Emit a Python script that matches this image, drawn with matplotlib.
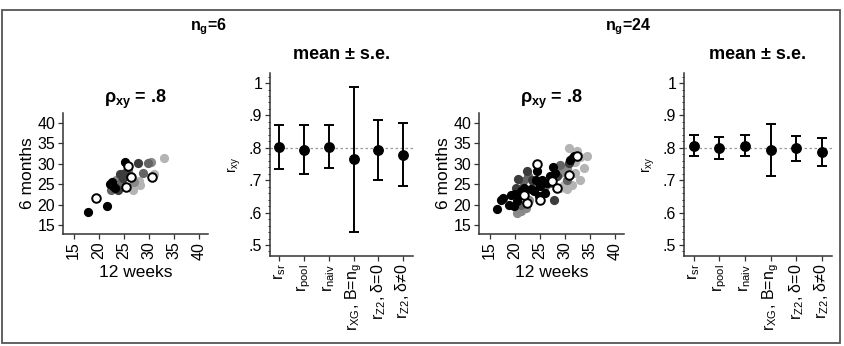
import matplotlib
matplotlib.use("Agg")
import matplotlib.pyplot as plt
from matplotlib.patches import Rectangle
from matplotlib.ticker import MultipleLocator

plt.rcParams["font.family"] = ["Liberation Sans", "DejaVu Sans"]
plt.rcParams["mathtext.fontset"] = "custom"
plt.rcParams["mathtext.rm"] = "Liberation Sans"
plt.rcParams["mathtext.it"] = "Liberation Sans:italic"
plt.rcParams["mathtext.bf"] = "Liberation Sans:bold"

# --- datos ---
# colores de los grupos (gris claro -> negro, y circulo abierto)
grp_colors = ["#b4b4b4", "#8a8a8a", "#646464", "#3c3c3c", "#000000", "white"]

# n_g = 6: 12 semanas (x) y 6 meses (y) por grupo
ng6_x = [
    [33.1, 28.0, 28.2, 26.9, 31.0],
    [30.5, 25.8, 23.5, 27.0],
    [22.5, 24.5, 28.9, 26.0, 29.8],
    [23.9, 24.2, 24.8, 27.9, 25.3],
    [17.9, 21.7, 22.2, 22.9, 22.6, 25.2, 23.2],
    [19.4, 25.9, 26.4, 25.5, 30.7],
]
ng6_y = [
    [31.5, 25.8, 24.8, 23.5, 27.5],
    [30.5, 28.5, 26.0, 25.5],
    [23.5, 25.6, 27.8, 27.2, 30.2],
    [23.5, 27.4, 26.5, 30.1, 27.8],
    [18.1, 19.6, 25.0, 24.5, 25.4, 30.5, 24.0],
    [21.7, 29.4, 26.8, 24.4, 26.8],
]

# n_g = 24
ng24_x = [
    [30.8, 32.0, 32.4, 33.1, 33.8, 34.4, 33.1, 31.5, 29.1, 29.8, 30.5, 32.1],
    [20.5, 21.2, 22.2, 22.8, 23.8, 29.1, 30.5, 31.5],
    [21.2, 21.7, 22.6, 23.8, 26.1, 27.1, 29.1, 30.5, 21.2],
    [20.2, 20.6, 22.4, 27.8, 23.5, 28.5, 30.8],
    [16.5, 17.2, 17.7, 18.8, 19.2, 20.0, 20.5, 21.2, 21.5, 21.8, 23.2, 23.8, 24.2,
     24.5, 25.1, 25.5, 26.1, 26.5, 27.1, 27.7, 28.1, 31.1, 31.8, 24.8, 19.8],
    [24.5, 32.4, 30.8, 27.5, 25.0, 22.5, 21.8, 28.5],
]
ng24_y = [
    [33.8, 30.5, 33.0, 31.7, 28.9, 31.9, 26.1, 24.9, 24.1, 24.9, 23.7, 27.7],
    [18.0, 18.4, 19.2, 21.2, 24.5, 27.7, 29.0, 31.3],
    [20.0, 25.7, 26.9, 25.3, 24.5, 25.3, 29.7, 26.1, 23.7],
    [24.1, 26.2, 28.3, 21.1, 26.1, 26.9, 30.1],
    [19.0, 21.1, 21.6, 19.8, 22.4, 22.6, 20.8, 23.3, 22.4, 24.1, 23.7, 23.3, 26.1,
     28.1, 24.5, 26.1, 22.8, 25.3, 26.9, 29.2, 27.7, 30.9, 31.9, 22.0, 19.6],
    [30.0, 32.0, 27.3, 25.7, 21.2, 20.4, 22.4, 24.1],
]

estimadores = [
    r"r$_\mathregular{sr}$",
    r"r$_\mathregular{pool}$",
    r"r$_\mathregular{naiv}$",
    r"r$_\mathregular{XG}$, B=n$_\mathregular{g}$",
    r"r$_\mathregular{Z2}$, δ=0",
    r"r$_\mathregular{Z2}$, δ≠0",
]

# media, limite inferior y superior (media ± e.e.)
ng6_media = [0.802, 0.794, 0.802, 0.765, 0.792, 0.778]
ng6_inf = [0.735, 0.719, 0.737, 0.541, 0.701, 0.682]
ng6_sup = [0.871, 0.871, 0.871, 0.987, 0.887, 0.876]

ng24_media = [0.807, 0.799, 0.806, 0.794, 0.799, 0.786]
ng24_inf = [0.775, 0.765, 0.775, 0.713, 0.758, 0.744]
ng24_sup = [0.840, 0.832, 0.839, 0.874, 0.837, 0.829]

rho = 0.8

W, H = 845, 346


def caja(left, top, right, bottom):
    # convierte pixeles a coordenadas de figura
    return [left / W, (H - bottom) / H, (right - left) / W, (bottom - top) / H]


def estilo_ejes(ax):
    ax.spines["top"].set_visible(False)
    ax.spines["right"].set_visible(False)
    for s in ["left", "bottom"]:
        ax.spines[s].set_linewidth(1.1)
        ax.spines[s].set_color("#333333")
    ax.tick_params(labelsize=11.5, length=3.5, width=0.9, color="#333333", pad=2)


def graficar_dispersion(ax, xs, ys):
    for gx, gy, c in zip(xs, ys, grp_colors):
        if c == "white":
            ax.scatter(gx, gy, s=38, facecolor="white", edgecolor="black",
                       linewidth=1.4, zorder=4)
        else:
            ax.scatter(gx, gy, s=44, color=c, linewidth=0, zorder=3)
    ax.set_xlim(12.9, 41.8)
    ax.set_ylim(12.8, 42.4)
    ticks = [15, 20, 25, 30, 35, 40]
    ax.set_xticks(ticks)
    ax.set_yticks(ticks)
    ax.set_xticklabels([str(t) for t in ticks], rotation=90)
    estilo_ejes(ax)
    ax.set_xlabel("12 weeks", fontsize=12.5, labelpad=4)
    ax.set_ylabel("6 months", fontsize=12.5, labelpad=2)
    ax.set_title(r"ρ$_\mathbf{xy}$ = .8", fontsize=13, fontweight="bold", pad=7)


def graficar_errores(ax, media, inf, sup):
    pos = list(range(1, len(media) + 1))
    ax.axhline(rho, color="#999999", linestyle=(0, (2, 2)), linewidth=0.9, zorder=1)
    yerr = [[m - a for m, a in zip(media, inf)], [b - m for m, b in zip(media, sup)]]
    ax.errorbar(pos, media, yerr=yerr, fmt="o", color="black", markersize=6.8,
                capsize=3.8, elinewidth=1.4, capthick=1.4, zorder=3)
    ax.set_xlim(0.62, 6.4)
    ax.set_ylim(0.466, 1.031)
    ax.set_yticks([0.5, 0.6, 0.7, 0.8, 0.9, 1.0])
    ax.set_yticklabels([".5", ".6", ".7", ".8", ".9", "1"])
    ax.yaxis.set_minor_locator(MultipleLocator(0.02))
    ax.set_xticks(pos)
    ax.set_xticklabels(estimadores, rotation=90)
    estilo_ejes(ax)
    ax.tick_params(axis="y", which="minor", length=1.8, width=0.7, color="#333333")
    ax.set_ylabel(r"r$_\mathregular{xy}$", fontsize=10, labelpad=4)
    ax.set_title("mean ± s.e.", fontsize=13, fontweight="bold", pad=10)


fig = plt.figure(figsize=(W / 100, H / 100), dpi=100)

ax1 = fig.add_axes(caja(63, 113, 208, 234))
graficar_dispersion(ax1, ng6_x, ng6_y)

ax2 = fig.add_axes(caja(270, 73, 413, 256))
graficar_errores(ax2, ng6_media, ng6_inf, ng6_sup)

ax3 = fig.add_axes(caja(479, 113, 624, 234))
graficar_dispersion(ax3, ng24_x, ng24_y)

ax4 = fig.add_axes(caja(684, 73, 832, 256))
graficar_errores(ax4, ng24_media, ng24_inf, ng24_sup)

fig.text(208 / W, 1 - 27 / H, r"n$_\mathbf{g}$=6", fontsize=11.5, fontweight="bold",
         ha="center", va="center")
fig.text(628 / W, 1 - 27 / H, r"n$_\mathbf{g}$=24", fontsize=11.5, fontweight="bold",
         ha="center", va="center")

# marco alrededor de la figura
fig.add_artist(Rectangle((2 / W, 3 / H), 838 / W, (H - 13) / H, transform=fig.transFigure,
                         fill=False, edgecolor="#555555", linewidth=1.3))

plt.savefig("out.png", dpi=100)
plt.close()
